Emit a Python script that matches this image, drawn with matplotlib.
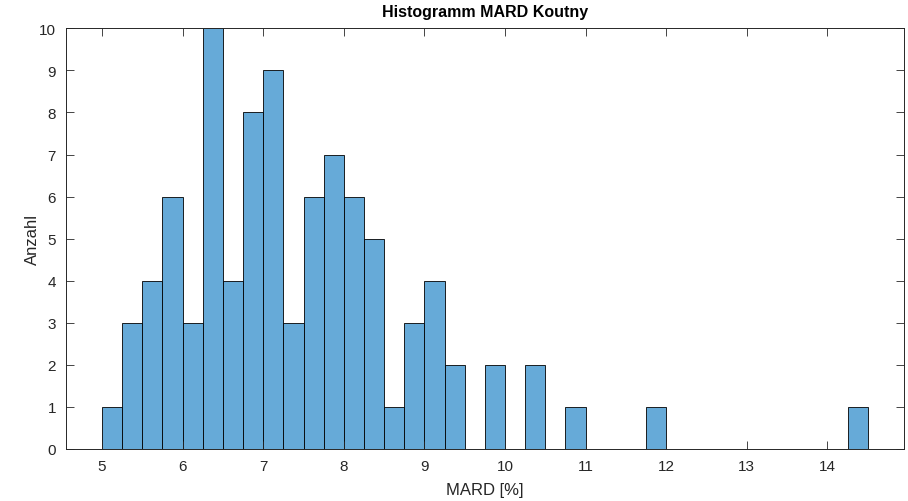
import numpy as np
import matplotlib
matplotlib.use("Agg")
import matplotlib.pyplot as plt

plt.rcParams['font.family'] = ['Liberation Sans', 'DejaVu Sans']

# histogram bins (width 0.25) and counts
bin_edges = np.arange(5.0, 14.5 + 0.001, 0.25)
counts = [1, 3, 4, 6, 3, 10, 4, 8, 9, 3, 6, 7, 6, 5, 1, 3, 4, 2,
          0, 2, 0, 2, 0, 1, 0, 0, 0, 1, 0, 0, 0, 0, 0, 0, 0, 0, 0, 1]
xticks = list(range(5, 15))
yticks = list(range(0, 11))

fig = plt.figure(figsize=(9.08, 5.02), dpi=100)
ax = fig.add_axes([0.0724, 0.1036, 0.9232, 0.838])

ax.bar(bin_edges[:-1], counts, width=0.25, align='edge',
       color='#66aad8', edgecolor='black', linewidth=0.6)

ax.set_xlim(4.55, 14.95)
ax.set_ylim(0, 10)
ax.set_xticks(xticks)
ax.set_yticks(yticks)

axcol = '#262626'
ax.tick_params(direction='in', top=True, right=True, length=6, width=0.6,
               colors=axcol, labelsize=11, pad=7)
for s in ax.spines.values():
    s.set_color(axcol)
    s.set_linewidth(0.7)

ax.set_xlabel('MARD [%]', fontsize=12, color=axcol, labelpad=7)
ax.set_ylabel('Anzahl', fontsize=12, color=axcol, labelpad=-1)
ax.set_title('Histogramm MARD Koutny', fontsize=11.5, fontweight='bold',
             color='black', pad=9)

fig.savefig('out.png', dpi=100)
